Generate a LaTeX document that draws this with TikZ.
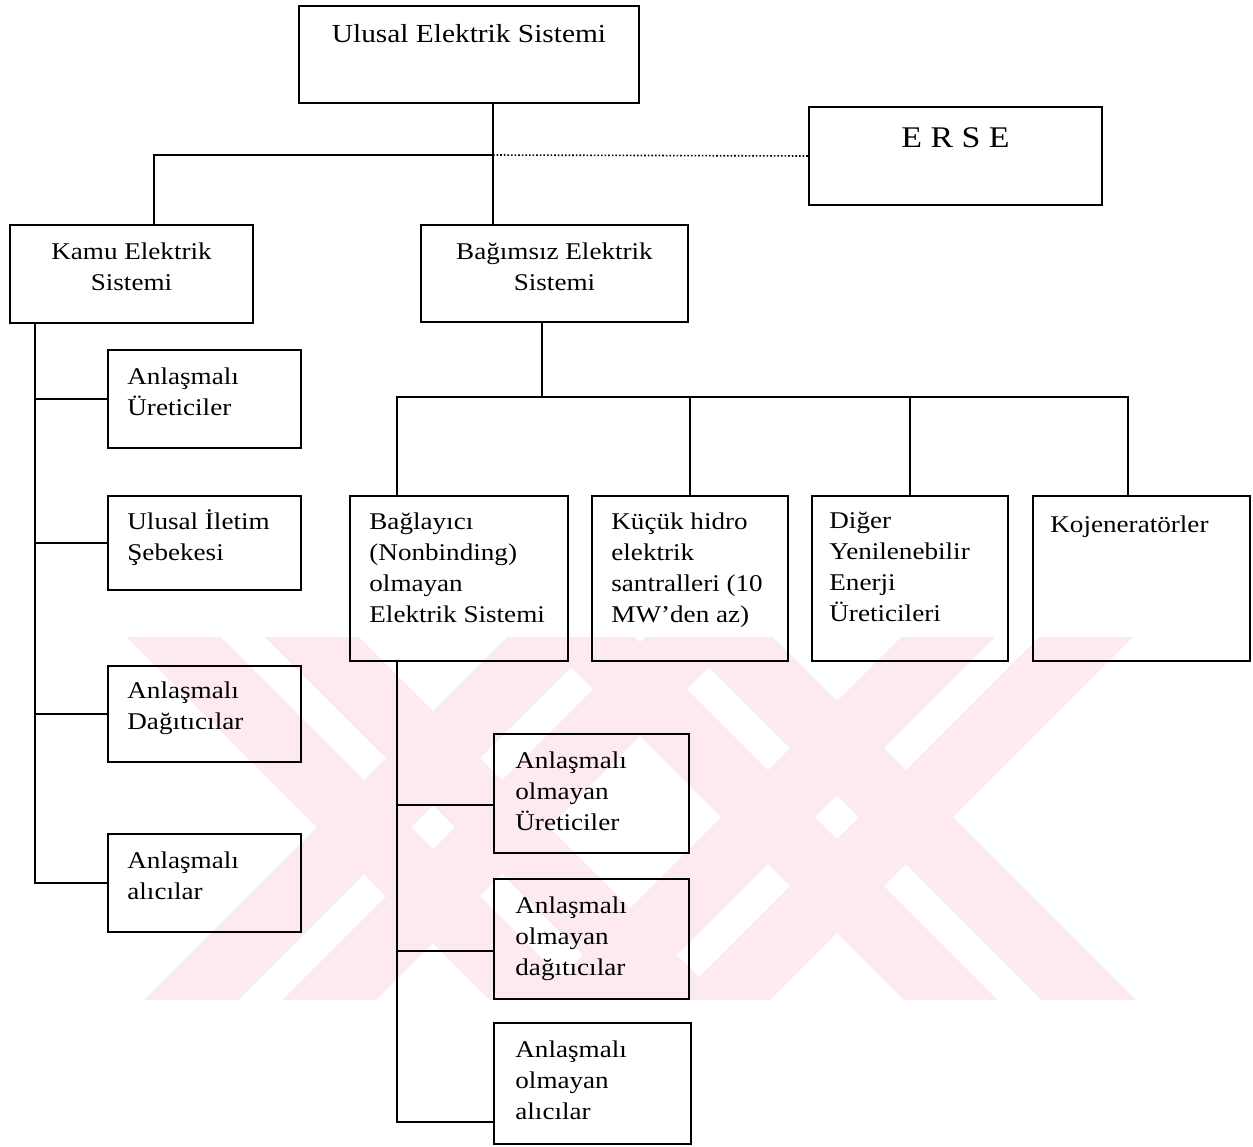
\documentclass[tikz,border=0pt]{standalone}
\usepackage{fontspec}
\setmainfont{Liberation Serif}[FakeStretch=1.13]
\definecolor{wmpink}{RGB}{252,234,238}
\begin{document}
\begin{tikzpicture}[x=0.5pt,y=-0.5pt,
    box/.style={draw,line width=1pt,anchor=north west,inner sep=0pt},
    txt/.style={inner sep=0pt,align=left,font=\fontsize{12}{15.5}\selectfont,execute at begin node=\strut},
    link/.style={line width=1pt}
]
\useasboundingbox (0,0) rectangle (1253,1146);

% watermark
\begin{scope}
\clip (127,637) rectangle (1135,1000);
\foreach \c in {243,657} \foreach \a/\b in {-116/-22,22/116}
  \fill[wmpink] ({\c+\a},637) -- ({\c+\b},637) -- ({\c+\b+363},1000) -- ({\c+\a+363},1000) -- cycle;
\foreach \c in {623,1017} \foreach \a/\b in {-116/-22,22/116}
  \fill[wmpink] ({\c+\a},637) -- ({\c+\b},637) -- ({\c+\b-363},1000) -- ({\c+\a-363},1000) -- cycle;
\end{scope}

\node[box,minimum width=170pt,minimum height=48.5pt]  (ues)  at (298,5)    {};
\node[box,minimum width=146.5pt,minimum height=49pt]  (erse) at (808,106)  {};
\node[box,minimum width=121.5pt,minimum height=49pt]  (kamu) at (9,224)    {};
\node[box,minimum width=133.5pt,minimum height=48.5pt](bag)  at (420,224)  {};
\node[box,minimum width=96.5pt,minimum height=49pt]   (k1)   at (107,349)  {};
\node[box,minimum width=96.5pt,minimum height=47pt]   (k2)   at (107,495)  {};
\node[box,minimum width=96.5pt,minimum height=48pt]   (k3)   at (107,665)  {};
\node[box,minimum width=96.5pt,minimum height=49pt]   (k4)   at (107,833)  {};
\node[box,minimum width=109pt,minimum height=82.5pt]  (b1)   at (349,495)  {};
\node[box,minimum width=98pt,minimum height=82.5pt]   (b2)   at (591,495)  {};
\node[box,minimum width=98pt,minimum height=82.5pt]   (b3)   at (811,495)  {};
\node[box,minimum width=108.5pt,minimum height=82.5pt](b4)   at (1032,495) {};
\node[box,minimum width=97.5pt,minimum height=59.5pt] (n1)   at (493,733)  {};
\node[box,minimum width=97.5pt,minimum height=60pt]   (n2)   at (493,878)  {};
\node[box,minimum width=98.5pt,minimum height=60.5pt] (n3)   at (493,1022) {};

\node[txt,font=\fontsize{13}{16}\selectfont,anchor=north] (ues-t) at ([yshift=-7.5pt]ues.north) {Ulusal Elektrik Sistemi};
\node[txt,font=\fontsize{15}{18}\selectfont,anchor=north] (erse-t) at ([yshift=-8pt]erse.north) {E R S E};
\node[txt,align=center,anchor=north] (kamu-t) at ([yshift=-9pt]kamu.north) {Kamu Elektrik\\Sistemi};
\node[txt,align=center,anchor=north] (bag-t) at ([yshift=-9pt]bag.north) {Bağımsız Elektrik\\Sistemi};
\node[txt,anchor=north west] (k1-t) at ([xshift=10pt,yshift=-9pt]k1.north west) {Anlaşmalı\\Üreticiler};
\node[txt,anchor=north west] (k2-t) at ([xshift=10pt,yshift=-7pt]k2.north west) {Ulusal İletim\\Şebekesi};
\node[txt,anchor=north west] (k3-t) at ([xshift=10pt,yshift=-8pt]k3.north west) {Anlaşmalı\\Dağıtıcılar};
\node[txt,anchor=north west] (k4-t) at ([xshift=10pt,yshift=-9pt]k4.north west) {Anlaşmalı\\alıcılar};
\node[txt,anchor=north west] (b1-t) at ([xshift=10pt,yshift=-8.5pt]b1.north west) {Bağlayıcı\\(Nonbinding)\\olmayan\\Elektrik Sistemi};
\node[txt,anchor=north west] (b2-t) at ([xshift=10pt,yshift=-8.5pt]b2.north west) {Küçük hidro\\elektrik\\santralleri (10\\MW’den az)};
\node[txt,anchor=north west] (b3-t) at ([xshift=9pt,yshift=-8.5pt]b3.north west) {Diğer\\Yenilenebilir\\Enerji\\Üreticileri};
\node[txt,anchor=north west] (b4-t) at ([xshift=9pt,yshift=-7.5pt]b4.north west) {Kojeneratörler};
\node[txt,anchor=north west] (n1-t) at ([xshift=11pt,yshift=-9pt]n1.north west) {Anlaşmalı\\olmayan\\Üreticiler};
\node[txt,anchor=north west] (n2-t) at ([xshift=11pt,yshift=-9pt]n2.north west) {Anlaşmalı\\olmayan\\dağıtıcılar};
\node[txt,anchor=north west] (n3-t) at ([xshift=11pt,yshift=-9pt]n3.north west) {Anlaşmalı\\olmayan\\alıcılar};

\coordinate (j0) at (154,155);
\coordinate (j1) at (493,155);
\coordinate (t1) at (35,0);
\coordinate (bus-l) at (397,397);
\coordinate (bus-c) at (542,397);
\coordinate (bus-r) at (1128,397);
\coordinate (n1-in) at ([yshift=-5.75pt]n1.west);
\coordinate (n2-in) at ([yshift=-6pt]n2.west);
\coordinate (n3-in) at ([yshift=-19.25pt]n3.west);

\draw[link] (ues.south -| j1) -- (bag.north -| j1);
\draw[link] (j1) -- (j0) -- (kamu.north -| j0);
\draw[densely dotted,line width=0.8pt] (j1) -- (erse.west);

\draw[link] (kamu.south -| t1) |- (k4.west);
\foreach \n in {k1,k2,k3}
  \draw[link] (\n.west -| t1) -- (\n.west);

\draw[link] (bag.south -| bus-c) -- (bus-c);
\draw[link] (b1.north -| bus-l) -- (bus-l) -- (bus-r) -- (b4.north -| bus-r);
\draw[link] (b2.north |- bus-l) -- (b2.north);
\draw[link] (b3.north |- bus-l) -- (b3.north);

\draw[link] (b1.south -| bus-l) |- (n3-in);
\draw[link] (n1-in -| bus-l) -- (n1-in);
\draw[link] (n2-in -| bus-l) -- (n2-in);
\end{tikzpicture}
\end{document}
